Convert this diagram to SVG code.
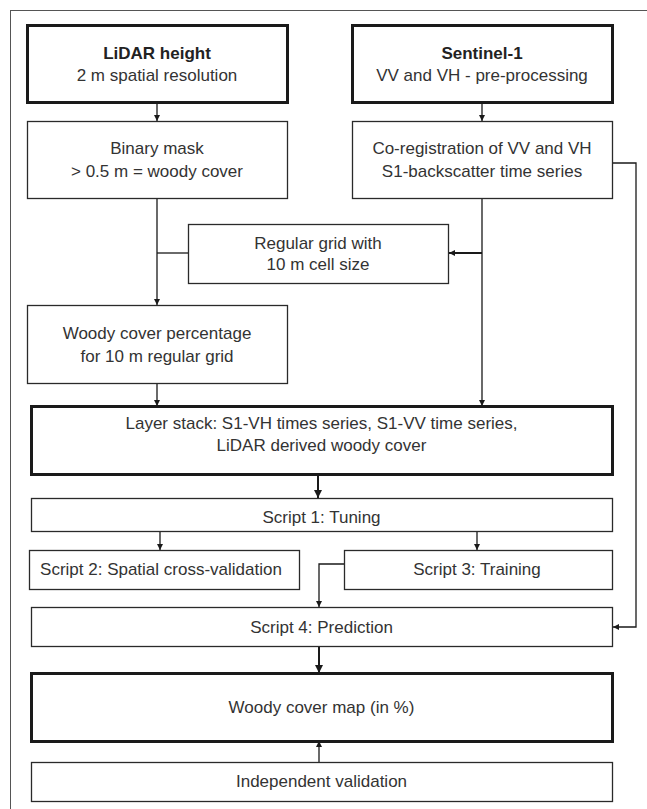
<svg xmlns="http://www.w3.org/2000/svg" width="647" height="809" viewBox="0 0 647 809">
<defs>
<style>
.frame{fill:none;stroke:#555;stroke-width:1}
.box{fill:#fff;stroke:#2a2a2a;stroke-width:1.3}
.thick{fill:#fff;stroke:#1a1a1a;stroke-width:3}
.t{font-family:"Liberation Sans",Arial,sans-serif;font-size:17px;fill:#333;text-anchor:middle}
.b{font-weight:bold;fill:#222}
.c{fill:none;stroke:#1a1a1a;stroke-width:1.3}
.c2{fill:none;stroke:#1a1a1a;stroke-width:2}
</style>
<marker id="ah" viewBox="0 0 10 10" refX="10" refY="5" markerWidth="6" markerHeight="6" markerUnits="userSpaceOnUse" orient="auto">
<path d="M0,0 L10,5 L0,10 z" fill="#1a1a1a"/>
</marker>
<marker id="ah2" viewBox="0 0 10 10" refX="10" refY="5" markerWidth="8" markerHeight="8" markerUnits="userSpaceOnUse" orient="auto">
<path d="M0,0 L10,5 L0,10 z" fill="#1a1a1a"/>
</marker>
</defs>
<rect width="647" height="809" fill="#fff"/>
<rect class="frame" x="10.5" y="10.5" width="660" height="820"/>

<g id="connectors">
<line class="c" x1="157" y1="102" x2="157" y2="121" marker-end="url(#ah)"/>
<line class="c" x1="482" y1="102" x2="482" y2="121" marker-end="url(#ah)"/>
<line class="c" x1="157" y1="198" x2="157" y2="305" marker-end="url(#ah)"/>
<line class="c" x1="188" y1="253" x2="157" y2="253"/>
<line class="c" x1="482" y1="198" x2="482" y2="406" marker-end="url(#ah)"/>
<line class="c2" x1="482" y1="253" x2="449" y2="253" marker-end="url(#ah)"/>
<polyline class="c" points="612,163 636,163 636,627 613,627" marker-end="url(#ah)"/>
<line class="c" x1="157" y1="383" x2="157" y2="406" marker-end="url(#ah)"/>
<line class="c2" x1="318" y1="474" x2="318" y2="498" marker-end="url(#ah2)"/>
<line class="c" x1="160" y1="531" x2="160" y2="550" marker-end="url(#ah)"/>
<line class="c" x1="477" y1="531" x2="477" y2="550" marker-end="url(#ah)"/>
<polyline class="c" points="344,564 319,564 319,607" marker-end="url(#ah)"/>
<line class="c2" x1="319" y1="646" x2="319" y2="673" marker-end="url(#ah2)"/>
<line class="c" x1="319" y1="762" x2="319" y2="741" marker-end="url(#ah)"/>
</g>

<g id="lidar">
<rect class="thick" x="27.5" y="25.5" width="260" height="77"/>
<text class="t b" x="157" y="59">LiDAR height</text>
<text class="t" x="157" y="81">2 m spatial resolution</text>
</g>
<g id="sentinel">
<rect class="thick" x="352.5" y="25.5" width="260" height="77"/>
<text class="t b" x="482" y="59">Sentinel-1</text>
<text class="t" x="482" y="81">VV and VH - pre-processing</text>
</g>
<g id="binary">
<rect class="box" x="27.5" y="121.5" width="260" height="77"/>
<text class="t" x="157" y="154">Binary mask</text>
<text class="t" x="157" y="177">&gt; 0.5 m = woody cover</text>
</g>
<g id="coreg">
<rect class="box" x="352.5" y="121.5" width="260" height="77"/>
<text class="t" x="482" y="154">Co-registration of VV and VH</text>
<text class="t" x="482" y="177">S1-backscatter time series</text>
</g>
<g id="grid">
<rect class="box" x="188.5" y="224.5" width="260" height="59"/>
<text class="t" x="318" y="249">Regular grid with</text>
<text class="t" x="318" y="270">10 m cell size</text>
</g>
<g id="woodypct">
<rect class="box" x="27.5" y="305.5" width="260" height="78"/>
<text class="t" x="157" y="339">Woody cover percentage</text>
<text class="t" x="157" y="362">for 10 m regular grid</text>
</g>
<g id="layerstack">
<rect class="thick" x="31.5" y="406.5" width="581" height="68"/>
<text class="t" x="321.5" y="429">Layer stack: S1-VH times series, S1-VV time series,</text>
<text class="t" x="321.5" y="451">LiDAR derived woody cover</text>
</g>
<g id="script1">
<rect class="box" x="31.5" y="498.5" width="581" height="33"/>
<text class="t" x="321.5" y="523">Script 1: Tuning</text>
</g>
<g id="script2">
<rect class="box" x="29.5" y="550.5" width="270" height="39"/>
<text class="t" x="161" y="575">Script 2: Spatial cross-validation</text>
</g>
<g id="script3">
<rect class="box" x="344.5" y="550.5" width="268" height="39"/>
<text class="t" x="477" y="575">Script 3: Training</text>
</g>
<g id="script4">
<rect class="box" x="31.5" y="607.5" width="581" height="39"/>
<text class="t" x="321.5" y="633">Script 4: Prediction</text>
</g>
<g id="map">
<rect class="thick" x="31.5" y="673.5" width="581" height="68"/>
<text class="t" x="321.5" y="713">Woody cover map (in %)</text>
</g>
<g id="validation">
<rect class="box" x="31.5" y="762.5" width="581" height="39"/>
<text class="t" x="321.5" y="787">Independent validation</text>
</g>
</svg>
